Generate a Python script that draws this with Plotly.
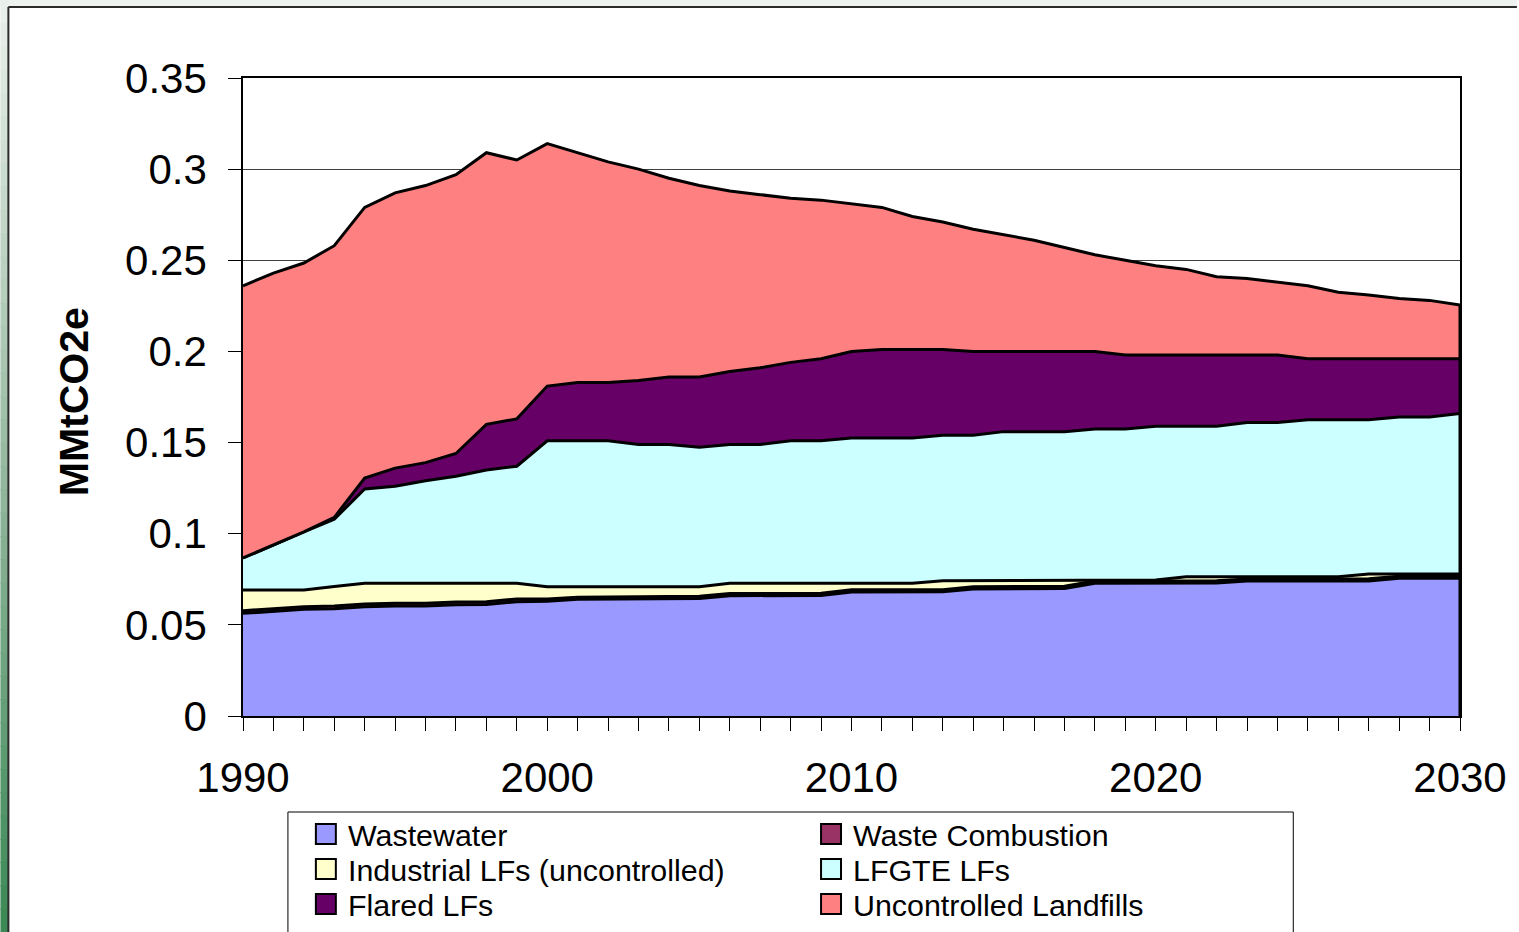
import plotly.graph_objects as go

years = list(range(1990, 2031))

wastewater = [0.0563, 0.0576, 0.0585, 0.0588, 0.0600, 0.0603, 0.0604, 0.0610, 0.0612, 0.0627,
              0.0630, 0.0640, 0.0641, 0.0645, 0.0645, 0.0645, 0.0660, 0.0660, 0.0660, 0.0661,
              0.0680, 0.0680, 0.0680, 0.0681, 0.0697, 0.0698, 0.0700, 0.0700, 0.0728, 0.0728,
              0.0728, 0.0729, 0.0730, 0.0740, 0.0740, 0.0740, 0.0741, 0.0741, 0.0755, 0.0755, 0.0756]
waste_combustion = [0.0015, 0.0015, 0.0015, 0.0015, 0.0015, 0.0015, 0.0015, 0.0015, 0.0015, 0.0015,
                    0.0012, 0.0012, 0.0012, 0.0012, 0.0012, 0.0012, 0.0012, 0.0012, 0.0012, 0.0012,
                    0.0012, 0.0012, 0.0012, 0.0012, 0.0012, 0.0012, 0.0012, 0.0012, 0.0012, 0.0012,
                    0.0012, 0.0012, 0.0012, 0.0012, 0.0012, 0.0012, 0.0012, 0.0012, 0.0012, 0.0012, 0.0012]
industrial = [0.0113, 0.0100, 0.0091, 0.0107, 0.0113, 0.0110, 0.0109, 0.0103, 0.0101, 0.0086,
              0.0067, 0.0057, 0.0056, 0.0052, 0.0052, 0.0052, 0.0056, 0.0056, 0.0056, 0.0055,
              0.0036, 0.0036, 0.0036, 0.0049, 0.0033, 0.0032, 0.0034, 0.0034, 0.0006, 0.0006,
              0.0006, 0.0023, 0.0022, 0.0012, 0.0012, 0.0012, 0.0011, 0.0026, 0.0012, 0.0012, 0.0011]
lfgte = [0.0176, 0.0249, 0.0319, 0.0370, 0.0517, 0.0532, 0.0562, 0.0587, 0.0622, 0.0642,
         0.0801, 0.0801, 0.0801, 0.0781, 0.0781, 0.0766, 0.0762, 0.0762, 0.0782, 0.0782,
         0.0797, 0.0797, 0.0797, 0.0798, 0.0798, 0.0818, 0.0814, 0.0814, 0.0829, 0.0829,
         0.0844, 0.0826, 0.0826, 0.0846, 0.0846, 0.0861, 0.0861, 0.0846, 0.0861, 0.0861, 0.0881]
flared = [0.0, 0.0, 0.0, 0.001, 0.006, 0.010, 0.010, 0.0125, 0.025, 0.026,
          0.030, 0.032, 0.032, 0.035, 0.037, 0.0385, 0.040, 0.042, 0.043, 0.045,
          0.0475, 0.0485, 0.0485, 0.047, 0.046, 0.044, 0.044, 0.044, 0.0425, 0.0405,
          0.039, 0.039, 0.039, 0.037, 0.037, 0.0335, 0.0335, 0.0335, 0.032, 0.032, 0.030]
uncontrolled = [0.1493, 0.149, 0.1475, 0.149, 0.1485, 0.151, 0.152, 0.153, 0.149, 0.142,
                0.133, 0.126, 0.121, 0.116, 0.109, 0.105, 0.099, 0.095, 0.090, 0.087,
                0.081, 0.078, 0.073, 0.070, 0.067, 0.064, 0.061, 0.057, 0.053, 0.052,
                0.049, 0.047, 0.043, 0.042, 0.040, 0.040, 0.0365, 0.035, 0.033, 0.032, 0.0295]

names = ["Wastewater", "Waste Combustion", "Industrial LFs (uncontrolled)",
         "LFGTE LFs", "Flared LFs", "Uncontrolled Landfills"]
series = [wastewater, waste_combustion, industrial, lfgte, flared, uncontrolled]
colors = ["#9999FF", "#993366", "#FFFFCC", "#CCFFFF", "#660066", "#FF8080"]

y_ticks = [0, 0.05, 0.1, 0.15, 0.2, 0.25, 0.3, 0.35]
x_labels = [1990, 2000, 2010, 2020, 2030]

FONT = "Liberation Sans, Arial, sans-serif"
W, H = 1519, 932
L, R, T, B = 243, 1462, 78, 716


def px(x):
    return (x - L) / (R - L)


def py(y):
    return (B - y) / (B - T)


fig = go.Figure()
for name, vals, col in zip(names, series, colors):
    fig.add_trace(go.Scatter(
        x=years, y=vals, name=name, stackgroup="one", mode="lines",
        line=dict(color="black", width=3), fillcolor=col, showlegend=False,
        hoverinfo="x+y+name"))

# closing vertical edge at the last year (from data totals)
totals_last = sum(s[-1] for s in series)
fig.add_trace(go.Scatter(x=[years[-1], years[-1]], y=[0, totals_last], mode="lines",
                         line=dict(color="black", width=3), showlegend=False,
                         hoverinfo="skip"))

shapes = []
# top light band
shapes.append(dict(type="rect", xref="paper", yref="paper", x0=px(0), x1=px(W),
                   y0=py(0), y1=py(7), fillcolor="#edf2ee", line=dict(width=0), layer="below"))
# left gradient strip
n = 40
c_top = (236, 241, 237)
c_mid = (150, 185, 160)
c_bot = (58, 136, 84)
for i in range(n):
    t = (i + 0.5) / n
    if t < 0.5:
        a, b, u = c_top, c_mid, t / 0.5
    else:
        a, b, u = c_mid, c_bot, (t - 0.5) / 0.5
    c = tuple(int(a[k] + (b[k] - a[k]) * u) for k in range(3))
    y0 = H * i / n
    y1 = H * (i + 1) / n + 1
    shapes.append(dict(type="rect", xref="paper", yref="paper", x0=px(0), x1=px(8),
                       y0=py(y0), y1=py(y1), fillcolor="rgb(%d,%d,%d)" % c,
                       line=dict(width=0), layer="below"))
# frame lines
shapes.append(dict(type="line", xref="paper", yref="paper", x0=px(8), x1=px(W),
                   y0=py(7), y1=py(7), line=dict(color="#2b2b2b", width=2)))
shapes.append(dict(type="line", xref="paper", yref="paper", x0=px(8), x1=px(8),
                   y0=py(7), y1=py(H), line=dict(color="#2b2b2b", width=2)))

# legend box
shapes.append(dict(type="rect", xref="paper", yref="paper", x0=px(288), x1=px(1295),
                   y0=py(812), y1=py(945), fillcolor="white",
                   line=dict(color="black", width=1)))

annotations = []
col_x = [316, 822]
row_y = [834, 869, 904]
for i, (name, col) in enumerate(zip(names, colors)):
    cx = col_x[i % 2]
    cy = row_y[i // 2]
    shapes.append(dict(type="rect", xref="paper", yref="paper", x0=px(cx), x1=px(cx + 20),
                       y0=py(cy - 10), y1=py(cy + 10), fillcolor=col,
                       line=dict(color="black", width=2)))
    annotations.append(dict(text=name, xref="paper", yref="paper", x=px(cx + 30), y=py(cy + 1),
                            xanchor="left", yanchor="middle", showarrow=False,
                            font=dict(family=FONT, size=30.4, color="black")))

annotations.append(dict(text="<b>MMtCO2e</b>", xref="paper", yref="paper", x=px(74), y=py(402),
                        xanchor="center", yanchor="middle", textangle=-90, showarrow=False,
                        font=dict(family=FONT, size=41, color="black")))

fig.update_layout(
    width=W, height=H,
    margin=dict(l=L, r=W - R, t=T, b=H - B, pad=0),
    paper_bgcolor="white", plot_bgcolor="white",
    font=dict(family=FONT, color="black"),
    shapes=shapes, annotations=annotations,
    showlegend=False,
    xaxis=dict(range=[1990, 2030], tickmode="array", tickvals=x_labels,
               ticktext=[str(v) for v in x_labels], ticks="outside", ticklen=13,
               tickcolor="black", tickwidth=1, showgrid=False, zeroline=False,
               showline=True, linecolor="black", linewidth=1.5, mirror=True,
               tickfont=dict(family=FONT, size=42), ticklabelstandoff=11,
               minor=dict(tickmode="array", tickvals=years, ticks="outside", ticklen=13,
                          tickcolor="black", tickwidth=1, showgrid=False)),
    yaxis=dict(range=[0, 0.35], tickmode="array", tickvals=y_ticks,
               ticktext=[("%g" % v) for v in y_ticks],
               ticks="outside", ticklen=13, tickcolor="black", tickwidth=1,
               showgrid=True, gridcolor="#404040", gridwidth=1, zeroline=False,
               showline=True, linecolor="black", linewidth=1.5, mirror=True,
               tickfont=dict(family=FONT, size=42), ticklabelstandoff=13),
)

fig.write_html("out.html", config={"displayModeBar": False},
               post_script="document.body.style.margin='0';document.body.style.overflow='hidden';")
